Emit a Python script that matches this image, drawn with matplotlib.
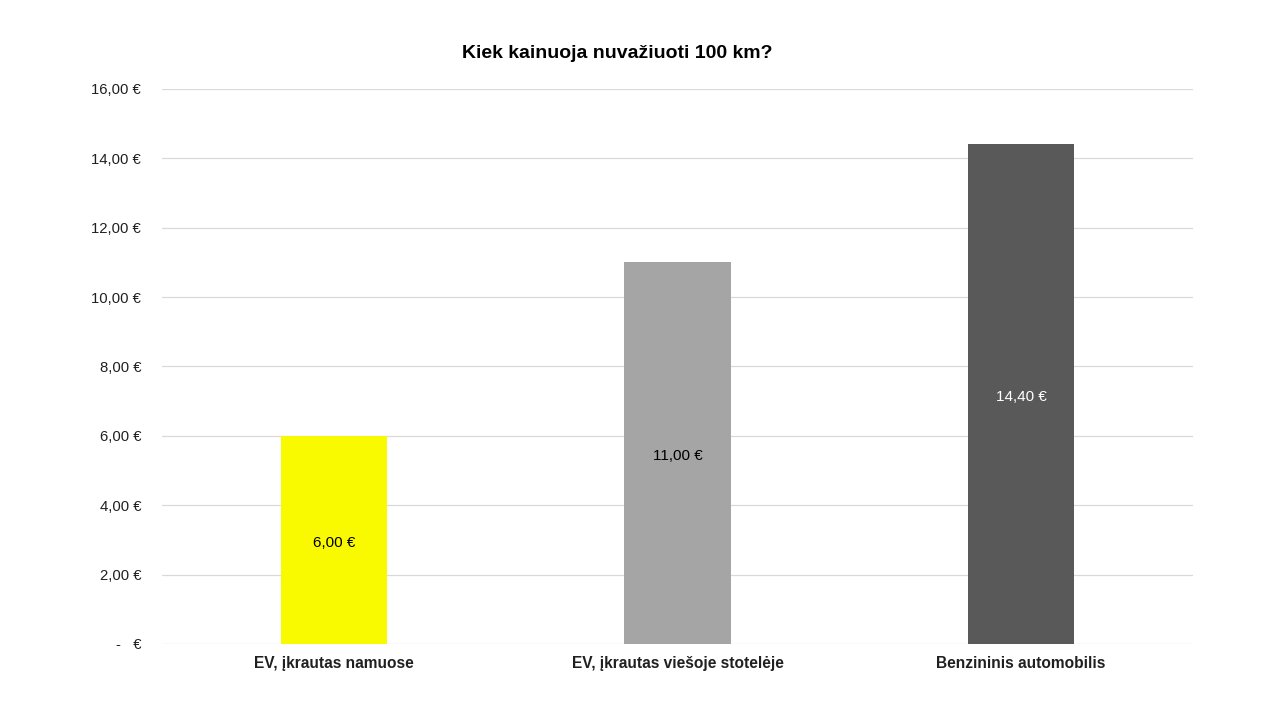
import matplotlib
matplotlib.use("Agg")
import matplotlib.pyplot as plt
import numpy as np

categories = ["EV, įkrautas namuose", "EV, įkrautas viešoje stotelėje", "Benzininis automobilis"]
values = [6.00, 11.00, 14.40]
colors = ["#F9F900", "#A5A5A5", "#595959"]
label_colors = ["black", "black", "white"]
yticks = [0, 2, 4, 6, 8, 10, 12, 14, 16]


def eur(v):
    if v == 0:
        return "-   €"
    return f"{v:.2f}".replace(".", ",") + " €"


plt.rcParams["font.family"] = ["Liberation Sans", "DejaVu Sans"]

fig = plt.figure(figsize=(12.8, 7.2), dpi=100)
ax = fig.add_axes([0.1266, 0.1056, 0.8054, 0.7708])

x = np.arange(len(categories))
ax.bar(x, values, width=0.31, color=colors, zorder=3)

for xi, v, c in zip(x, values, label_colors):
    ax.text(xi, v / 2 - 0.08, eur(v), ha="center", va="center", fontsize=11, color=c, zorder=4)

ax.set_xlim(-0.5, 2.5)
ax.set_ylim(0, 16)
ax.set_yticks(yticks)
ax.set_yticklabels([eur(v) for v in yticks], fontsize=10.7, color="#202020")
ax.set_xticks(x)
ax.set_xticklabels(categories, fontsize=11.2, fontweight="bold", color="#202020")
ax.tick_params(axis="both", length=0)
ax.tick_params(axis="y", pad=15)
ax.tick_params(axis="x", pad=9)
ax.grid(axis="y", color="#D9D9D9", linewidth=0.9, zorder=0)
for s in ax.spines.values():
    s.set_visible(False)

fig.text(0.482, 0.925, "Kiek kainuoja nuvažiuoti 100 km?", ha="center", va="center",
         fontsize=14, fontweight="bold")

fig.savefig("out.png", dpi=100)
